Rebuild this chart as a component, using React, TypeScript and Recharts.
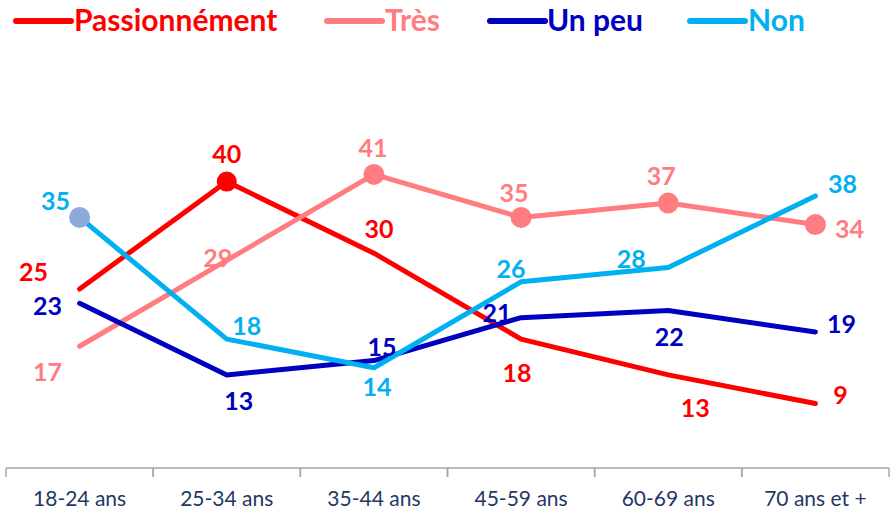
import React from "react";
import { LineChart, Line, XAxis, YAxis, LabelList } from "recharts";

const categories = ["18-24 ans", "25-34 ans", "35-44 ans", "45-59 ans", "60-69 ans", "70 ans et +"];
const passionnement = [25, 40, 30, 18, 13, 9];
const tres = [17, 29, 41, 35, 37, 34];
const unPeu = [23, 13, 15, 21, 22, 19];
const non = [35, 18, 14, 26, 28, 38];

// which points carry a round marker
const passionnementMarkers = [1];
const tresMarkers = [2, 3, 4, 5];
const unPeuMarkers: number[] = [];
const nonMarkers = [0];

const data = categories.map((age, i) => ({
  age,
  passionnement: passionnement[i],
  tres: tres[i],
  unPeu: unPeu[i],
  non: non[i],
}));

const FONT = "Lato, 'Open Sans', sans-serif";
const HALF_BAND = 73.6;

const series = [
  {
    key: "passionnement",
    name: "Passionnément",
    color: "#FF0000",
    dotColor: "#FF0000",
    dotR: 10,
    markers: passionnementMarkers,
    offsets: [[-46, -18], [0, -29], [5, -25], [-4, 33], [27, 32], [25, -10]],
  },
  {
    key: "tres",
    name: "Très",
    color: "#FF7C80",
    dotColor: "#FF7C80",
    dotR: 10.5,
    markers: tresMarkers,
    offsets: [[-32, 25], [-9, -3], [-1, -27], [-7, -25], [-7, -28], [34, 3]],
  },
  {
    key: "unPeu",
    name: "Un peu",
    color: "#0000C0",
    dotColor: "#0000C0",
    dotR: 9,
    markers: unPeuMarkers,
    offsets: [[-32, 2], [12, 25], [8, -15], [-24, -6], [1, 26], [26, -9]],
  },
  {
    key: "non",
    name: "Non",
    color: "#00B0F0",
    dotColor: "#8EA9DB",
    dotR: 10.5,
    markers: nonMarkers,
    offsets: [[-24, -17], [20, -14], [3, 18], [-10, -14], [-37, -10], [27, -13]],
  },
];

const legendPos = [
  { lx: 16, tx: 74 },
  { lx: 327, tx: 385 },
  { lx: 490, tx: 547 },
  { lx: 690, tx: 748 },
];

const AgeTick = (props: any) => {
  const { x, y, payload } = props;
  return (
    <g>
      <line x1={x - HALF_BAND} x2={x - HALF_BAND} y1={y} y2={y + 9} stroke="#A6A6A6" strokeWidth={1.5} />
      <line x1={x + HALF_BAND} x2={x + HALF_BAND} y1={y} y2={y + 9} stroke="#A6A6A6" strokeWidth={1.5} />
      <text x={x} y={y + 38} textAnchor="middle" fill="#1F3864" fontSize={21} fontFamily={FONT}>
        {payload.value}
      </text>
    </g>
  );
};

export default function App() {
  return (
    <div style={{ position: "absolute", left: 0, top: 0, width: 891, height: 511, background: "#fff" }}>
      <svg width={891} height={45} style={{ position: "absolute", left: 0, top: 0 }}>
        {series.map((s, i) => (
          <g key={s.key}>
            <line
              x1={legendPos[i].lx}
              x2={legendPos[i].lx + 55}
              y1={21}
              y2={21}
              stroke={s.color}
              strokeWidth={6}
              strokeLinecap="round"
            />
            <text x={legendPos[i].tx} y={31} fill={s.color} fontSize={30} fontWeight={700} fontFamily={FONT}>
              {s.name}
            </text>
          </g>
        ))}
      </svg>
      <LineChart
        width={891}
        height={511}
        data={data}
        margin={{ top: 110, right: 2, bottom: 0, left: 6 }}
        style={{ fontFamily: FONT }}
      >
        <XAxis
          dataKey="age"
          height={43}
          padding={{ left: HALF_BAND, right: HALF_BAND }}
          axisLine={{ stroke: "#A6A6A6", strokeWidth: 1.5 }}
          tickLine={false}
          tickSize={0}
          tickMargin={0}
          interval={0}
          tick={<AgeTick />}
        />
        <YAxis hide domain={[0, 50]} />
        {series.map((s) => (
          <Line
            key={s.key}
            dataKey={s.key}
            name={s.name}
            type="linear"
            stroke={s.color}
            strokeWidth={5}
            strokeLinecap="round"
            strokeLinejoin="round"
            isAnimationActive={false}
            activeDot={false}
            dot={(p: any) =>
              s.markers.includes(p.index) ? (
                <circle key={`d-${s.key}-${p.index}`} cx={p.cx} cy={p.cy} r={s.dotR} fill={s.dotColor} />
              ) : (
                <g key={`d-${s.key}-${p.index}`} />
              )
            }
          >
            <LabelList
              dataKey={s.key}
              content={(p: any) => {
                const off = s.offsets[p.index] || [0, -20];
                return (
                  <text
                    x={p.x + off[0]}
                    y={p.y + off[1]}
                    textAnchor="middle"
                    dominantBaseline="central"
                    fill={s.color}
                    fontSize={25}
                    fontWeight={700}
                    fontFamily={FONT}
                  >
                    {p.value}
                  </text>
                );
              }}
            />
          </Line>
        ))}
      </LineChart>
    </div>
  );
}
